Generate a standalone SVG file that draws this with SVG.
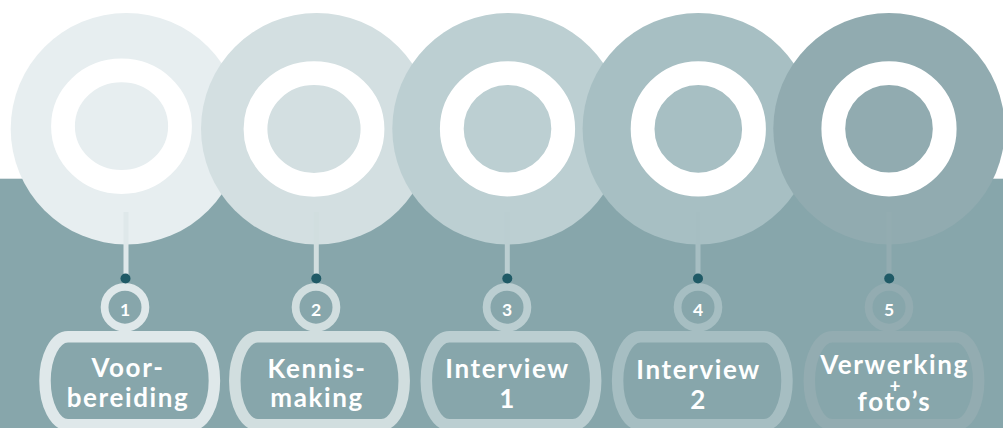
<svg xmlns="http://www.w3.org/2000/svg" width="1003" height="428" viewBox="0 0 1003 428">
<style>
.ring{fill:none;stroke:#ffffff;stroke-width:23.8}
.num{fill:none;stroke-width:7.8}
.box{fill:none;stroke-width:11.5}
.stem{stroke-width:5}
.dot{fill:#1f5a66}
.nt{font-family:"Lato","Liberation Sans",sans-serif;font-weight:700;font-size:17.5px;fill:#ffffff;text-anchor:middle}
.lb{font-family:"Lato","Liberation Sans",sans-serif;font-weight:700;font-size:26px;fill:#ffffff;text-anchor:middle;letter-spacing:1.6px}
.plus{font-family:"Lato","Liberation Sans",sans-serif;font-weight:700;font-size:19px;fill:#ffffff;text-anchor:middle}
.c1{fill:#e7eef0}.s1{stroke:#dfe8ea}
.c2{fill:#d3dfe1}.s2{stroke:#d1dedf}
.c3{fill:#bccfd2}.s3{stroke:#bbced1}
.c4{fill:#a7bfc3}.s4{stroke:#a6bec2}
.c5{fill:#91abb0}.s5{stroke:#93acb1}
</style>
<rect x="0" y="0" width="1003" height="428" fill="#ffffff"/>
<rect x="0" y="178.7" width="1003" height="250" fill="#87a6ab"/>
<g id="step1">
<circle class="c1" cx="126.4" cy="128.7" r="115.7"/>
<ellipse class="ring" cx="121.5" cy="126.2" rx="58.5" ry="55.8"/>
<circle class="num s1" cx="125" cy="307.2" r="20.4"/>
<text class="nt" x="125" y="315.7">1</text>
<rect class="box s1" x="45" y="336.8" width="169.4" height="88" rx="23" ry="44"/>
<text class="lb" x="128" y="376.5">Voor-</text>
<text class="lb" x="128" y="406.5">bereiding</text>
</g>
<g id="step2">
<circle class="c2" cx="316.7" cy="128.7" r="115.7"/>
<ellipse class="ring" cx="314" cy="129" rx="58.5" ry="55.8"/>
<circle class="num s2" cx="316" cy="307.2" r="20.4"/>
<text class="nt" x="316" y="315.7">2</text>
<rect class="box s2" x="234.8" y="336.8" width="169.4" height="88" rx="23" ry="44"/>
<text class="lb" x="317" y="377.7">Kennis-</text>
<text class="lb" x="317" y="406.7">making</text>
</g>
<g id="step3">
<circle class="c3" cx="508" cy="128.7" r="115.7"/>
<circle class="ring" cx="507.5" cy="128.8" r="55.7"/>
<circle class="num s3" cx="507" cy="307.2" r="20.4"/>
<text class="nt" x="507" y="315.7">3</text>
<rect class="box s3" x="426.3" y="336.8" width="169.4" height="88" rx="23" ry="44"/>
<text class="lb" x="507.5" y="378">Interview</text>
<text class="lb" x="507.5" y="407.5">1</text>
</g>
<g id="step4">
<circle class="c4" cx="698.3" cy="128.7" r="115.7"/>
<circle class="ring" cx="698.3" cy="128.9" r="55.7"/>
<circle class="num s4" cx="698" cy="307.2" r="20.4"/>
<text class="nt" x="698" y="315.7">4</text>
<rect class="box s4" x="617.6" y="336.8" width="169.4" height="88" rx="23" ry="44"/>
<text class="lb" x="698.5" y="379">Interview</text>
<text class="lb" x="698.5" y="408.5">2</text>
</g>
<g id="step5">
<circle class="c5" cx="889" cy="128.7" r="115.7"/>
<circle class="ring" cx="889" cy="128.8" r="55.7"/>
<circle class="num s5" cx="889" cy="307.2" r="20.4"/>
<text class="nt" x="889" y="315.7">5</text>
<rect class="box s5" x="809.3" y="336.8" width="169.4" height="88" rx="23" ry="44"/>
<text class="lb" x="894.5" y="374" letter-spacing="1.2">Verwerking</text>
<text class="plus" x="895" y="392.5">+</text>
<text class="lb" x="894.5" y="410.5">foto’s</text>
</g>
<g id="connectors">
<line class="stem s1" x1="126" y1="212" x2="126" y2="279"/>
<line class="stem s2" x1="316.3" y1="212" x2="316.3" y2="279"/>
<line class="stem s3" x1="507.3" y1="212" x2="507.3" y2="279"/>
<line class="stem s4" x1="698" y1="212" x2="698" y2="279"/>
<line class="stem s5" x1="889" y1="212" x2="889" y2="279"/>
<circle class="dot" cx="125.5" cy="278.5" r="5"/>
<circle class="dot" cx="316.3" cy="278.5" r="5"/>
<circle class="dot" cx="507.3" cy="278.5" r="5"/>
<circle class="dot" cx="698" cy="278.5" r="5"/>
<circle class="dot" cx="889.2" cy="278.5" r="5"/>
</g>
</svg>
